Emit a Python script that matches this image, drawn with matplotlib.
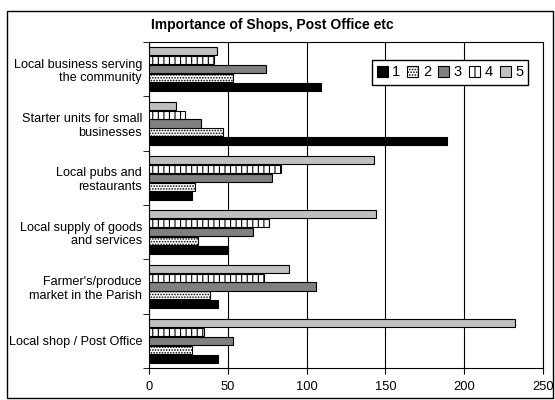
import matplotlib.pyplot as plt
import numpy as np
from matplotlib.patches import Rectangle

plt.rcParams['font.family'] = ['Liberation Sans', 'DejaVu Sans']
plt.rcParams['hatch.linewidth'] = 0.8

# data (categories listed bottom to top)
categories = ["Local shop / Post Office", "Farmer's/produce\nmarket in the Parish",
              "Local supply of goods\nand services", "Local pubs and\nrestaurants",
              "Starter units for small\nbusinesses", "Local business serving\nthe community"]
s1 = [44, 44, 50, 27, 189, 109]
s2 = [27, 39, 31, 29, 47, 53]
s3 = [53, 106, 66, 78, 33, 74]
s4 = [35, 73, 76, 84, 23, 41]
s5 = [232, 89, 144, 143, 17, 43]
series_names = ["1", "2", "3", "4", "5"]

fig = plt.figure(figsize=(5.55, 4.0), dpi=100)
ax = fig.add_axes([149/555, 1-368/400, (543-149)/555, (368-42)/400])

y = np.arange(len(categories))
h = 0.148
styles = [dict(color='black', hatch=None),
          dict(color='white', hatch='......'),
          dict(color='#808080', hatch=None),
          dict(color='white', hatch='|||'),
          dict(color='#c0c0c0', hatch=None)]
for i, (vals, st) in enumerate(zip([s1, s2, s3, s4, s5], styles)):
    ax.barh(y + (i - 2) * h * 1.1, vals, height=h, color=st['color'], hatch=st['hatch'],
            edgecolor='black', linewidth=0.8, label=series_names[i], zorder=3)

ax.set_xlim(0, 250)
ax.set_ylim(-0.5, len(categories) - 0.5)
ax.set_xticks([0, 50, 100, 150, 200, 250])
ax.set_yticks(y)
ax.set_yticklabels(categories, fontsize=9.1, ha='right', multialignment='right')
ax.set_yticks(np.arange(-0.5, len(categories), 1), minor=True)
ax.tick_params(axis='y', which='major', length=0, pad=5)
ax.tick_params(axis='y', which='minor', length=4, direction='out')
ax.tick_params(axis='x', labelsize=9.3, length=4, direction='out', pad=5)
ax.grid(axis='x', color='black', linewidth=0.8, zorder=0)
for s in ax.spines.values():
    s.set_linewidth(0.8)

fig.text(272/555, 1-25/400, "Importance of Shops, Post Office etc", fontsize=10,
         fontweight='bold', ha='center', va='center')

ax.legend(ncol=5, loc='upper right', bbox_to_anchor=(0.981, 0.966), fontsize=10.5,
          handlelength=0.75, handleheight=0.75, handletextpad=0.3, columnspacing=0.5,
          frameon=True, fancybox=False, edgecolor='black', borderpad=0.35,
          framealpha=1)

fig.patches.append(Rectangle((7/555, 2/400), 546/555, 387/400, transform=fig.transFigure,
                             fill=False, edgecolor='black', linewidth=1.0))

plt.savefig('out.png', dpi=100)
